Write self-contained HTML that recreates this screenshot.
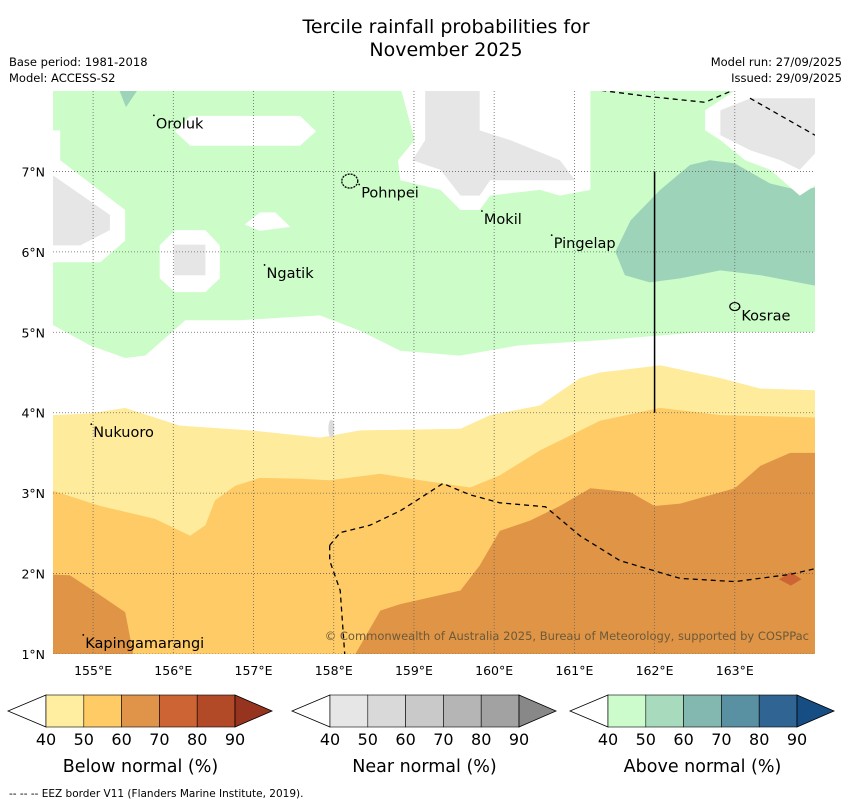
<!DOCTYPE html>
<html><head><meta charset="utf-8"><style>
body{margin:0;background:#fff;width:850px;height:804px;overflow:hidden}
svg{display:block;font-family:"DejaVu Sans","Liberation Sans",sans-serif}
</style></head><body>
<svg id="s" width="850" height="804" xmlns="http://www.w3.org/2000/svg">
<text x="446" y="33" font-size="19" text-anchor="middle">Tercile rainfall probabilities for</text>
<text x="446" y="56" font-size="19" text-anchor="middle">November 2025</text>
<text x="9" y="66" font-size="11.5">Base period: 1981-2018</text>
<text x="9" y="82" font-size="11.5">Model: ACCESS-S2</text>
<text x="842" y="66" font-size="11.5" text-anchor="end">Model run: 27/09/2025</text>
<text x="842" y="82" font-size="11.5" text-anchor="end">Issued: 29/09/2025</text>
<defs><clipPath id="pc"><rect x="53" y="91" width="762" height="563"/></clipPath></defs>
<g id="map" clip-path="url(#pc)"></g>
<g id="overlay"></g>
<text x="809" y="640" font-size="11.5" fill="#6b5a3a" text-anchor="end">© Commonwealth of Australia 2025, Bureau of Meteorology, supported by COSPPac</text>
<g id="cbars"></g>
<text x="9" y="797" font-size="10.5">--  --  -- EEZ border V11 (Flanders Marine Institute, 2019).</text>
</svg>
<script>
const lonMin=154.5,lonMax=164,latMin=1,latMax=8;
const X0=53,X1=815,Y0=91,Y1=654;
const px=lon=>X0+(lon-lonMin)/(lonMax-lonMin)*(X1-X0);
const py=lat=>Y0+(latMax-lat)/(latMax-latMin)*(Y1-Y0);
const lonTicks=[155,156,157,158,159,160,161,162,163];
const latTicks=[1,2,3,4,5,6,7];
const green=[[154.5,8],[164,8],[164,5.0],[162.57,5.0],[161.32,4.9],[160.32,4.84],[159.57,4.71],[158.83,4.77],[158.33,5.02],[157.83,5.21],[156.83,5.15],[156.15,5.15],[155.65,4.71],[155.4,4.68],[154.96,4.84],[154.5,5.09]];
const tealMain=[[161.51,6.0],[161.7,6.39],[162.07,6.77],[162.44,7.08],[162.69,7.14],[163.0,7.1],[163.44,6.85],[163.82,6.76],[164,6.8],[164,5.58],[163.32,5.71],[162.82,5.77],[162.32,5.67],[161.94,5.62],[161.63,5.71]];
const tealTop=[[155.31,8.05],[155.58,8.05],[155.41,7.8]];
const whiteA=[[158.83,8.05],[161.2,8.05],[161.2,6.77],[160.82,6.7],[160.57,6.77],[159.95,6.7],[159.82,6.52],[159.58,6.52],[159.33,6.77],[158.83,6.89],[158.8,7.14],[159.01,7.39]];
const grayA=[[159.14,8.05],[159.82,8.05],[159.82,7.51],[160.2,7.39],[160.82,7.14],[161.01,6.89],[159.95,6.89],[159.82,6.7],[159.58,6.7],[159.33,7.02],[158.98,7.14],[159.14,7.39]];
const whiteB=[[162.63,7.76],[163.07,8.05],[164.1,8.05],[164.1,6.89],[163.81,6.7],[163.44,7.02],[163.13,7.14],[162.82,7.39],[162.63,7.51]];
const grayB=[[162.82,7.76],[163.2,7.91],[164.1,7.91],[164.1,7.33],[163.81,7.02],[163.57,7.14],[163.2,7.26],[162.82,7.45]];
const whiteC=[[154.4,7.51],[154.59,7.51],[154.59,7.14],[155.4,6.52],[155.4,6.14],[155.09,5.87],[154.4,5.87]];
const grayC=[[154.4,7.02],[155.21,6.46],[155.21,6.27],[154.84,6.08],[154.4,6.08]];
const whiteD=[[155.83,6.08],[156.02,6.27],[156.4,6.27],[156.58,6.08],[156.58,5.67],[156.4,5.5],[156.02,5.5],[155.83,5.67]];
const grayD=[[156.01,6.09],[156.4,6.09],[156.4,5.71],[156.01,5.71]];
const whiteE=[[156.02,7.5],[156.21,7.69],[157.58,7.69],[157.78,7.5],[157.58,7.32],[156.21,7.32]];
const whiteF=[[156.89,6.34],[157.08,6.49],[157.27,6.49],[157.46,6.31],[157.08,6.26]];
const yellowTop=[[154.5,3.97],[154.96,3.99],[155.4,4.06],[156.08,3.84],[156.96,3.78],[157.83,3.69],[158.33,3.78],[159.58,3.8],[159.95,3.97],[160.57,4.09],[161.07,4.43],[161.32,4.5],[162.07,4.59],[162.82,4.43],[163.32,4.3],[164,4.28]];
const orangeTop=[[154.5,3.03],[155.09,2.84],[155.77,2.68],[156.21,2.47],[156.4,2.6],[156.52,2.91],[156.77,3.09],[157.08,3.19],[157.58,3.18],[157.95,3.16],[158.58,3.24],[159.08,3.16],[159.7,3.07],[160.07,3.22],[160.57,3.53],[161.32,3.9],[162.07,4.06],[162.82,3.97],[164,3.94]];
const darkLeft=[[154.4,1.99],[154.71,1.98],[155.09,1.73],[155.4,1.52],[155.52,0.9],[154.4,0.9]];
const darkBottom=[[158.27,1.0],[158.58,1.54],[158.83,1.62],[159.58,1.79],[159.82,2.1],[160.07,2.53],[160.45,2.66],[160.82,2.84],[161.2,3.06],[161.7,3.01],[162.0,2.84],[162.32,2.87],[163.0,3.06],[163.32,3.34],[163.69,3.5],[164.1,3.5],[164.1,0.9],[158.27,0.9]];
const redBlob=[[163.55,1.93],[163.7,2.02],[163.83,1.93],[163.7,1.85]];
const eezMid=[[157.95,2.35],[158.08,2.51],[158.45,2.6],[158.83,2.78],[159.08,2.94],[159.36,3.12],[159.7,2.98],[160.07,2.88],[160.64,2.83],[161.07,2.47],[161.57,2.16],[162.32,1.94],[163.0,1.9],[163.69,1.99],[164,2.06]];
const eezBranch=[[157.95,2.35],[157.95,2.16],[158.08,1.79],[158.14,0.95]];
const eezTop1=[[161.0,8.05],[161.94,7.93],[162.63,7.86],[163.07,8.05]];
const eezTop2=[[163.19,7.91],[164,7.45]];
const places=[["Oroluk",155.77,7.66],["Pohnpei",158.33,6.8],["Mokil",159.86,6.47],["Pingelap",160.73,6.17],["Ngatik",157.15,5.8],["Kosrae",163.07,5.27],["Nukuoro",154.99,3.82],["Kapingamarangi",154.89,1.2]];
const bins=["40","50","60","70","80","90"];
const belowColors=["#ffeda0","#fecb65","#e0944a","#cd6434","#b34a27","#97341f"];
const nearColors=["#e6e6e6","#d9d9d9","#c9c9c9","#b5b5b5","#a2a2a2","#888888"];
const aboveColors=["#ccfccc","#a8dbbd","#82b8b0","#5a91a2","#306593","#164d82"];
const NS="http://www.w3.org/2000/svg";
const map=document.getElementById('map'),ov=document.getElementById('overlay'),cb=document.getElementById('cbars');
function mk(tag,parent,attrs){const e=document.createElementNS(NS,tag);for(const k in attrs)e.setAttribute(k,attrs[k]);parent.appendChild(e);return e;}
function pts(a){return a.map(p=>px(p[0]).toFixed(1)+','+py(p[1]).toFixed(1)).join(' ');}
function poly(a,fill,name){const e=mk('polygon',map,{points:pts(a),fill:fill});

return e;}
poly(green,"#ccfcc8","above-normal-40-50");
poly(tealMain,"#9dd3b9","above-normal-50-60-east");
poly(tealTop,"#9dd3b9","above-normal-50-60-north");
poly(whiteA,"#ffffff","no-signal-central-north");
poly(grayA,"#e6e6e6","near-normal-central-north");
poly(whiteB,"#ffffff","no-signal-northeast");
poly(grayB,"#e6e6e6","near-normal-northeast");
poly(whiteC,"#ffffff","no-signal-west");
poly(grayC,"#e6e6e6","near-normal-west");
poly(whiteD,"#ffffff","no-signal-ngatik-west");
poly(grayD,"#e6e6e6","near-normal-ngatik-west");
poly(whiteE,"#ffffff","no-signal-oroluk");
poly(whiteF,"#ffffff","no-signal-small");
poly(yellowTop.concat([[164.1,0.9],[154.4,0.9]]),"#ffeb9c","below-normal-40-50");
poly(orangeTop.concat([[164.1,0.9],[154.4,0.9]]),"#fecb66","below-normal-50-60");
poly(darkLeft,"#e09445","below-normal-60-70-west");
poly(darkBottom,"#e09445","below-normal-60-70-south");
poly(redBlob,"#cd6434","below-normal-70-80-blob");
const isl=mk('ellipse',map,{cx:px(157.97),cy:py(3.8),rx:3,ry:9,fill:"#dcdcdc"});


lonTicks.forEach(l=>{const g=mk('line',map,{x1:px(l),x2:px(l),y1:Y0,y2:Y1,stroke:"#666","stroke-width":0.8,"stroke-dasharray":"1,2"});


const t=mk('text',ov,{x:px(l),y:675,"font-size":12.5,"text-anchor":"middle"});t.textContent=l+"°E";

});
latTicks.forEach(l=>{const g=mk('line',map,{x1:X0,x2:X1,y1:py(l),y2:py(l),stroke:"#666","stroke-width":0.8,"stroke-dasharray":"1,2"});


const t=mk('text',ov,{x:45,y:py(l)+5,"font-size":12.5,"text-anchor":"end"});t.textContent=l+"°N";

});
[eezMid,eezBranch,eezTop1,eezTop2].forEach(a=>{const e=mk('polyline',map,{points:pts(a),fill:"none",stroke:"#000","stroke-width":1.3,"stroke-dasharray":"5,4"});

});
const vl=mk('line',map,{x1:px(162),x2:px(162),y1:py(7),y2:py(4),stroke:"#000","stroke-width":1.5});


const poh=mk('ellipse',map,{cx:px(158.2),cy:py(6.88),rx:8,ry:7,fill:"none",stroke:"#000","stroke-width":1.3,"stroke-dasharray":"2,1"});


const kos=mk('ellipse',map,{cx:px(163.0),cy:py(5.32),rx:5,ry:4,fill:"none",stroke:"#000","stroke-width":1.2});


places.forEach(p=>{const t=mk('text',map,{x:px(p[1])+1,y:py(p[2])+10,"font-size":14.5});t.textContent=p[0];


const d=mk('circle',map,{cx:px(p[1])-1,cy:py(p[2])-3,r:0.9,fill:"#000"});

});
function colorbar(x0,colors,title,key){const w=37.8,y=695,h=32;const g=mk('g',cb,{});


mk('polygon',g,{points:`${x0},${y} ${x0-38},${y+h/2} ${x0},${y+h}`,fill:"#fff",stroke:"#000","stroke-width":0.8});
colors.forEach((c,i)=>{if(i<5){mk('rect',g,{x:x0+i*w,y:y,width:w,height:h,fill:c,stroke:"#000","stroke-width":0.6});}});
const xe=x0+5*w;
mk('polygon',g,{points:`${xe},${y} ${xe+37},${y+h/2} ${xe},${y+h}`,fill:colors[5],stroke:"#000","stroke-width":0.8});
bins.forEach((b,i)=>{const t=mk('text',g,{x:x0+i*w,y:745,"font-size":16,"text-anchor":"middle"});t.textContent=b;});
const tt=mk('text',g,{x:x0+2.5*w,y:772,"font-size":17.5,"text-anchor":"middle"});tt.textContent=title;}
colorbar(46,belowColors,"Below normal (%)","below-normal");
colorbar(330,nearColors,"Near normal (%)","near-normal");
colorbar(608,aboveColors,"Above normal (%)","above-normal");
</script>
</body></html>
